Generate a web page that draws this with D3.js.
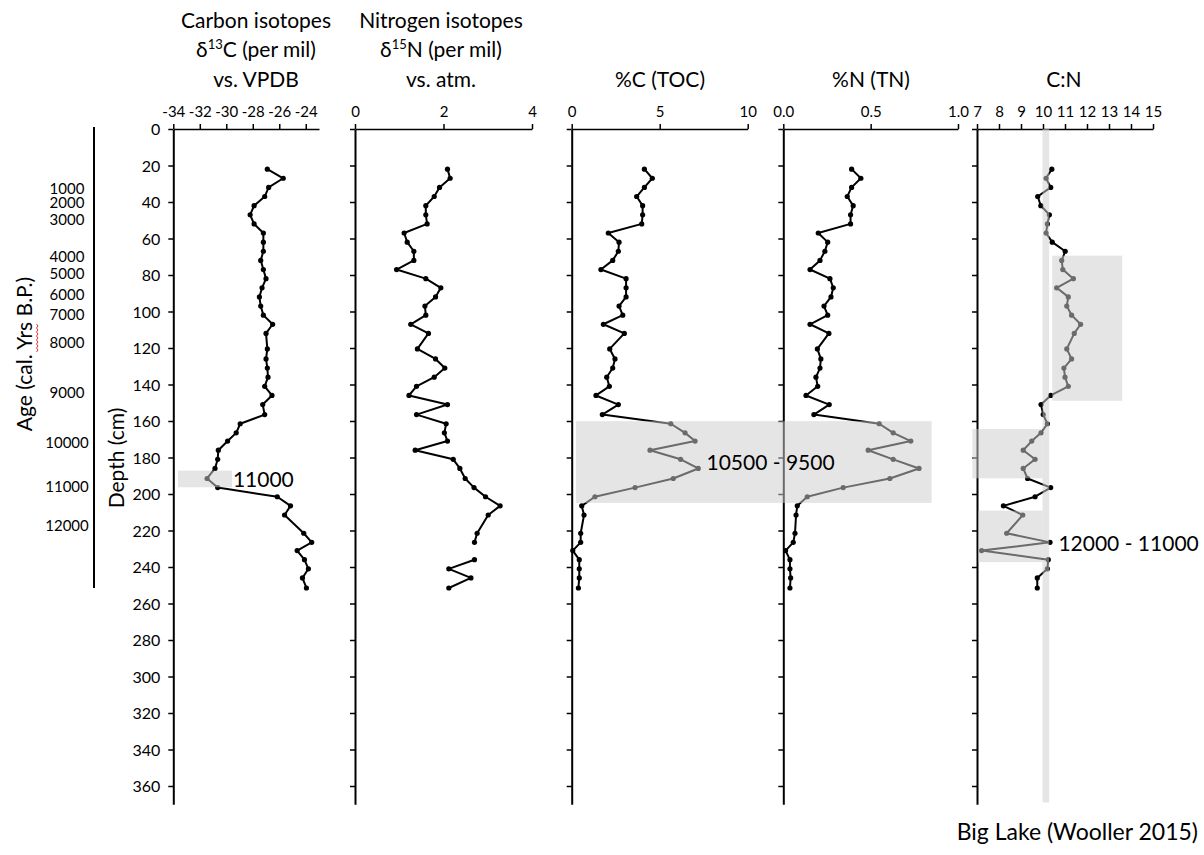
<!DOCTYPE html>
<html>
<head>
<meta charset="utf-8">
<script src="https://cdn.jsdelivr.net/npm/d3@7"></script>
<style>
  body { margin: 0; background: #fff; }
  svg { display: block; }
  text { font-family: Lato, "Open Sans", sans-serif; fill: #000; }
</style>
</head>
<body>
<svg id="chart" width="1204" height="855"></svg>
<script>
// Sample depths (cm) shared by all five down-core profiles
const depths = [22, 27, 32, 37, 42, 47, 52, 57, 62, 67, 72, 77, 82, 87, 92, 97, 102, 107, 112,
  120.5, 126, 131, 136, 141, 146, 151, 156.5, 161.5, 166.5, 171, 176, 181, 186, 191.5, 196.5,
  201.5, 206.5, 211.5, 221.5, 226.5, 231, 236, 241, 246, 251.5];

// δ13C (per mil vs. VPDB)
const d13C = [-26.9, -25.7, -26.8, -27.1, -27.9, -28.2, -27.9, -27.2, -27.2, -27.2, -27.4, -27.2,
  -27.0, -27.3, -27.5, -27.4, -27.2, -26.5, -27.0,
  -26.9, -27.0, -26.9, -26.85, -27.1, -26.55, -27.25, -27.1, -28.95, -29.25, -29.9, -30.6, -30.65,
  -30.85, -31.45, -30.65, -26.15, -25.15, -25.6,
  -24.15, -23.55, -24.65, -24.1, -23.8, -24.25, -23.95];

// δ15N (per mil vs. atm.); null marks a missing sample
const d15N = [2.09, 2.15, 1.91, 1.79, 1.60, 1.60, 1.63, 1.11, 1.18, 1.33, 1.33, 0.94, 1.60, 1.94,
  1.82, 1.58, 1.60, 1.26, 1.66,
  1.41, 1.82, 2.03, 1.79, 1.39, 1.22, 2.09, 1.39, 2.06, 2.02, 2.09, 1.36, 2.22, 2.37, 2.49, 2.69,
  2.95, 3.28, 3.01,
  2.76, 2.70, null, 2.70, 2.12, 2.62, 2.12];

// %C (TOC)
const tocPct = [4.13, 4.58, 4.13, 3.69, 4.03, 4.03, 3.98, 2.08, 2.69, 2.65, 2.33, 1.66, 3.09, 3.09,
  3.09, 2.69, 2.90, 1.80, 2.99,
  2.16, 2.46, 2.33, 1.99, 2.14, 1.38, 2.65, 1.74, 5.63, 6.44, 7.01, 4.45, 6.19, 7.19, 5.77, 3.60,
  1.32, 0.57, 0.70,
  0.51, 0.51, 0.06, 0.43, 0.43, 0.43, 0.38];

// %N (TN)
const tnPct = [0.391, 0.444, 0.391, 0.366, 0.400, 0.385, 0.385, 0.200, 0.254, 0.238, 0.210, 0.153,
  0.267, 0.286, 0.273, 0.233, 0.254, 0.153, 0.261,
  0.195, 0.215, 0.210, 0.187, 0.197, 0.130, 0.263, 0.175, 0.549, 0.629, 0.730, 0.486, 0.629, 0.777,
  0.610, 0.343, 0.137, 0.080, 0.073,
  0.067, 0.057, 0.013, 0.038, 0.038, 0.042, 0.038];

// C:N ratio
const cnRatio = [10.40, 10.14, 10.35, 9.76, 9.90, 10.29, 10.20, 10.14, 10.42, 11.01, 10.85, 10.90,
  11.38, 10.62, 11.15, 11.08, 11.30, 11.71, 11.42,
  11.08, 11.30, 10.95, 11.00, 11.15, 10.35, 9.91, 10.01, 10.20, 9.91, 9.49, 9.10, 9.64, 9.10, 9.30,
  10.35, 9.64, 8.20, 9.08,
  8.35, 10.32, 7.21, 10.24, 10.20, 9.74, 9.74];

// Calibrated ages (cal. yrs B.P.) and the depths they sit at
const ageYears = [1000, 2000, 3000, 4000, 5000, 6000, 7000, 8000, 9000, 10000, 11000, 12000];
const ageDepths = [33, 40.4, 49.9, 70.1, 79.5, 91, 101.9, 117.1, 144.8, 171.9, 196, 217.5];

// Tick labels
const depthTicks = [0, 20, 40, 60, 80, 100, 120, 140, 160, 180, 200, 220, 240, 260, 280, 300, 320, 340, 360];
const d13CTicks = [-34, -32, -30, -28, -26, -24];
const d15NTicks = [0, 2, 4];
const tocTicks = [0, 5, 10];
const tnTicks = [0, 0.5, 1.0];
const cnTicks = [7, 8, 9, 10, 11, 12, 13, 14, 15];

// Shaded intervals: [x0, x1] in the panel's units, [d0, d1] in depth (cm)
const shadeD13C = [{ x0: -33.65, x1: -29.57, d0: 187.2, d1: 196.3 }];
const shadeToc = [{ x0: 0.24, x1: 20.45, d0: 160.1, d1: 204.9 }];
const shadeCN = [
  { x0: 9.98, x1: 10.28, d0: 0, d1: 369 },
  { x0: 10.42, x1: 13.6, d0: 69.4, d1: 148.9 },
  { x0: 6.79, x1: 9.98, d0: 164.4, d1: 191.4 },
  { x0: 7.06, x1: 9.98, d0: 209.1, d1: 237.3 }
];

const svg = d3.select("#chart");

const y = d3.scaleLinear().domain([0, 370]).range([129, 129 + 370 * 1.825]);

const panels = [
  { key: "d13C", values: d13C, domain: [-34, -23], range: [173.3, 319], ticks: d13CTicks,
    fmt: d => d, title: ["Carbon isotopes", "δ13C (per mil)", "vs. VPDB"], cx: 256, depthLabels: true,
    shades: shadeD13C },
  { key: "d15N", values: d15N, domain: [0, 4], range: [355, 532], ticks: d15NTicks,
    fmt: d => d, title: ["Nitrogen isotopes", "δ15N (per mil)", "vs. atm."], cx: 441 },
  { key: "toc", values: tocPct, domain: [0, 10], range: [571.7, 747.7], ticks: tocTicks,
    fmt: d => d, title: ["%C (TOC)"], cx: 660, shades: shadeToc },
  { key: "tn", values: tnPct, domain: [0, 1], range: [783.3, 958], ticks: tnTicks,
    fmt: d3.format(".1f"), title: ["%N (TN)"], cx: 871 },
  { key: "cn", values: cnRatio, domain: [7, 15], range: [977, 1153], ticks: cnTicks,
    fmt: d => d, title: ["C:N"], cx: 1064, shades: shadeCN }
];

const overlayLayer = [];

panels.forEach(p => {
  const x = d3.scaleLinear().domain(p.domain).range(p.range);
  p.x = x;
  const g = svg.append("g").attr("class", "panel-" + p.key);

  // depth axis on the left edge of every panel
  const ax = g.append("g")
    .attr("transform", `translate(${p.range[0]},0)`)
    .call(d3.axisLeft(y).tickValues(depthTicks).tickSize(5).tickSizeOuter(0)
      .tickFormat(p.depthLabels ? (d => d) : ""));
  ax.select(".domain").attr("stroke", "#000").attr("stroke-width", 2);
  ax.selectAll(".tick line").attr("stroke", "#000").attr("stroke-width", 1.5);
  ax.selectAll(".tick text").attr("font-size", 16).attr("x", -13).attr("dy", "0.36em")
    .style("font-family", "Lato, sans-serif");

  // value axis along the top
  const tx = g.append("g")
    .attr("transform", `translate(0,${y(0)})`)
    .call(d3.axisTop(x).tickValues(p.ticks).tickSize(5).tickSizeOuter(0).tickFormat(p.fmt));
  tx.select(".domain").attr("stroke", "#000").attr("stroke-width", 1.5);
  tx.selectAll(".tick line").attr("stroke", "#000").attr("stroke-width", 1.5);
  tx.selectAll(".tick text").attr("font-size", 15).attr("y", -12)
    .style("font-family", "Lato, sans-serif");

  // profile line and sample points
  const pts = depths.map((d, i) => ({ d, v: p.values[i] }));
  const line = d3.line().defined(o => o.v != null).x(o => x(o.v)).y(o => y(o.d));
  g.append("path").datum(pts)
    .attr("d", line).attr("fill", "none").attr("stroke", "#000")
    .attr("stroke-width", 2).attr("stroke-linejoin", "round");
  g.selectAll("circle").data(pts.filter(o => o.v != null)).join("circle")
    .attr("cx", o => x(o.v)).attr("cy", o => y(o.d)).attr("r", 2.6).attr("fill", "#000");

  // panel heading
  const lineY = p.title.length === 3 ? [28, 57, 87] : [87];
  p.title.forEach((t, i) => {
    const txt = g.append("text").attr("x", p.cx).attr("y", lineY[i])
      .attr("text-anchor", "middle").attr("font-size", 21);
    const m = t.match(/^(δ)(\d+)(.*)$/);
    if (m) {
      txt.append("tspan").text(m[1]);
      txt.append("tspan").text(m[2]).attr("font-size", 13).attr("dy", -8);
      txt.append("tspan").text(m[3]).attr("dy", 8);
    } else {
      txt.text(t);
    }
  });

  if (p.shades) p.shades.forEach(s => overlayLayer.push({ s, x }));
});

// translucent shading laid over the profiles
svg.append("g").selectAll("rect").data(overlayLayer).join("rect")
  .attr("x", o => o.x(o.s.x0)).attr("width", o => o.x(o.s.x1) - o.x(o.s.x0))
  .attr("y", o => y(o.s.d0)).attr("height", o => y(o.s.d1) - y(o.s.d0))
  .attr("fill", "#cdcdcd").attr("fill-opacity", 0.52);

// interval labels
const [p13, , pToc, , pCN] = panels;
svg.append("text").attr("x", p13.x(-29.5)).attr("y", y(191.8) + 7.5)
  .attr("font-size", 21).text("11000");
svg.append("text").attr("x", pToc.x(11.3)).attr("y", y(182.5) + 7.5)
  .attr("text-anchor", "middle").attr("font-size", 21).text("10500 - 9500");
svg.append("text").attr("x", pCN.x(10.7)).attr("y", y(227) + 7.5)
  .attr("font-size", 21).text("12000 - 11000");

// age scale
svg.append("line").attr("x1", 94).attr("x2", 94).attr("y1", y(0) - 2).attr("y2", y(251.5))
  .attr("stroke", "#000").attr("stroke-width", 2);
svg.append("g").selectAll("text").data(ageYears).join("text")
  .attr("x", 67).attr("y", (a, i) => y(ageDepths[i])).attr("dy", "0.34em")
  .attr("text-anchor", "middle").attr("font-size", 15).text(a => a);

// axis titles
svg.append("text").attr("transform", "translate(124,458) rotate(-90)")
  .attr("text-anchor", "middle").attr("font-size", 21).text("Depth (cm)");
svg.append("text").attr("transform", "translate(32,354) rotate(-90)")
  .attr("text-anchor", "middle").attr("font-size", 21).text("Age (cal. Yrs B.P.)");
// spell-check squiggle under "Yrs"
svg.append("path")
  .attr("d", "M36.5,352 l1.5,-2 l-1.5,-2 l1.5,-2 l-1.5,-2 l1.5,-2 l-1.5,-2 l1.5,-2 l-1.5,-2 l1.5,-2 l-1.5,-2 l1.5,-2 l-1.5,-2 l1.5,-2 l-1.5,-2")
  .attr("fill", "none").attr("stroke", "#e03030").attr("stroke-width", 1);

svg.append("text").attr("x", 1198).attr("y", 840).attr("text-anchor", "end")
  .attr("font-size", 23).text("Big Lake (Wooller 2015)");
</script>
</body>
</html>
